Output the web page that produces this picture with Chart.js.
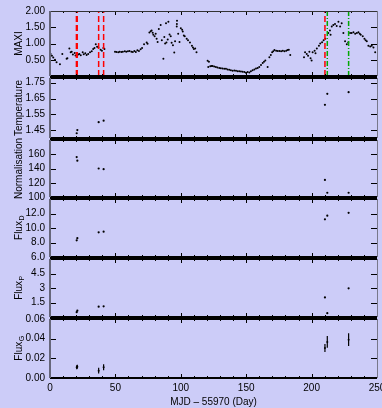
<!DOCTYPE html>
<html>
<head>
<meta charset="utf-8">
<script src="https://cdn.jsdelivr.net/npm/chart.js@4.4.0/dist/chart.umd.min.js"></script>
<style>
  html, body { margin: 0; padding: 0; background: #ccccf8; }
  #wrap { position: relative; width: 382px; height: 408px; overflow: hidden; }
  #wrap canvas { position: absolute; left: 0; }
</style>
</head>
<body>
<div id="wrap"></div>
<script>
/* ---------------- data ---------------- */

// MAXI light curve (day since MJD 55970, rate)
const MAXI_DAY = [
  0.5, 1.5, 2.5, 3.8, 5.0, 7.6, 9.4, 12.7, 13.3, 14.8, 15.8, 16.6, 17.5, 18.9, 19.5, 20.6, 21.5, 22.4, 23.5, 25.0,
  25.8, 27.0, 28.0, 29.2, 30.6, 31.9, 33.0, 34.0, 35.0, 36.0, 37.0, 38.7, 39.7, 40.8, 41.6,
  49.7, 50.8, 52.2, 53.3, 54.6, 55.7, 57.2, 58.3, 59.6, 60.8, 62.2, 63.3, 64.5, 65.6, 66.8, 68.0, 69.3, 70.4,
  71.9, 73.9, 74.6, 76.0, 77.0, 77.7, 78.5, 79.0, 80.0, 80.8, 81.5, 82.3, 83.2, 84.6, 85.5, 86.7, 87.4, 88.0,
  88.7, 89.0, 90.0, 90.5, 91.4, 92.3, 93.0, 94.0, 95.0, 95.6, 96.9, 97.0, 97.1, 98.0, 99.0, 100.0, 101.0, 101.5,
  102.3, 103.0, 104.5, 105.5, 107.0, 108.5, 109.3, 110.0, 111.0, 112.0,
  120.5, 121.5, 121.0, 122.5, 123.5, 124.3, 125.5, 126.8, 128.0, 129.4, 130.6, 131.9, 133.2, 134.5, 135.7, 137.0,
  138.3, 139.6, 140.9, 142.2, 143.5, 144.7, 146.0, 147.3, 148.6, 149.8, 151.1, 152.4, 153.6, 154.9, 156.2, 157.5,
  158.8, 160.0, 161.3, 162.6, 163.6, 164.6, 166.4, 167.7, 168.8, 169.8, 170.7, 171.6, 172.9, 174.1, 175.4, 176.7,
  178.0, 179.3, 180.6, 181.6, 182.6, 183.7,
  194.2, 195.0, 196.3, 197.3, 198.3, 199.2, 200.0, 200.8, 202.3, 203.0, 204.0, 205.6, 206.6, 208.0, 209.2, 210.5,
  212.8, 214.0, 214.5, 215.4, 216.6, 217.9, 219.2, 220.5, 221.8, 223.0, 224.3, 225.6, 226.9, 228.0, 229.4, 230.6,
  232.0, 233.3, 234.6, 235.8, 236.8, 237.6, 239.1, 240.4, 241.3, 242.2, 243.4, 244.8, 246.0, 247.3, 248.6
];
const MAXI_RATE = [
  0.68, 0.62, 0.57, 0.50, 0.42, 0.36, 0.68, 0.53, 0.55, 0.85, 0.73, 0.75, 0.66, 0.71, 0.63, 0.61, 0.66, 0.68, 0.64, 0.73,
  0.67, 0.70, 0.65, 0.68, 0.73, 0.76, 0.83, 0.86, 0.98, 0.90, 0.88, 0.81, 0.78, 0.86, 0.83,
  0.75, 0.74, 0.73, 0.75, 0.74, 0.75, 0.76, 0.75, 0.76, 0.77, 0.75, 0.74, 0.77, 0.74, 0.79, 0.77, 0.82, 0.86,
  0.98, 1.03, 0.99, 1.34, 1.38, 1.40, 1.33, 1.27, 1.22, 1.30, 1.15, 1.05, 1.45, 1.57, 1.10, 0.53, 1.20, 1.00,
  1.62, 1.03, 1.12, 1.67, 1.28, 1.22, 1.02, 0.95, 0.72, 1.07, 1.52, 1.60, 1.70, 1.30, 1.05, 1.47, 1.42, 1.37,
  1.25, 1.22, 1.15, 1.10, 1.03, 0.93, 0.88, 0.83, 0.85, 0.73,
  0.47, 0.44, 0.28, 0.30, 0.31, 0.31, 0.29, 0.28, 0.26, 0.25, 0.24, 0.23, 0.22, 0.22, 0.20, 0.19,
  0.18, 0.16, 0.17, 0.16, 0.15, 0.15, 0.14, 0.13, 0.12, 0.10, 0.12, 0.11, 0.15, 0.18, 0.20, 0.23,
  0.25, 0.28, 0.34, 0.40, 0.44, 0.48, 0.28, 0.58, 0.65, 0.73, 0.76, 0.80, 0.78, 0.77, 0.77, 0.76,
  0.78, 0.76, 0.78, 0.80, 0.81, 0.65,
  0.58, 0.73, 0.68, 0.62, 0.75, 0.55, 0.48, 0.73, 0.78, 0.70, 0.85, 0.93, 1.00, 1.04, 1.10, 1.15,
  1.32, 1.40, 1.27, 1.52, 1.57, 1.60, 1.54, 1.67, 1.52, 1.62, 1.32, 1.07, 0.98, 1.03, 1.32, 1.32,
  1.35, 1.30, 1.32, 1.35, 1.30, 1.27, 1.22, 1.15, 1.10, 1.07, 0.93, 0.91, 0.93, 0.88, 0.73
];

// pointed observations
const RED_LINES   = [20.2, 20.8, 37.2, 41.0, 210.2];
const GREEN_LINES = [212.0, 228.3];
const OBS_DAY       = [20.4, 20.9, 37.2, 41.0, 210.2, 212.0, 228.3];
const TEMPERATURE   = [1.43, 1.45, 1.50, 1.51, 1.61, 1.68, 1.69];
const NORMALISATION = [156, 151, 140, 139, 124, 106, 106];
const FLUX_D        = [8.3, 8.6, 9.4, 9.5, 11.2, 11.7, 12.1];
const FLUX_P        = [0.5, 0.65, 1.07, 1.1, 2.03, 0.4, 2.97];
const FLUX_G        = [0.011, 0.0115, 0.0075, 0.011, 0.0305, 0.0367, 0.039];
const FLUX_G_ERR    = [0.002, 0.002, 0.003, 0.003, 0.004, 0.006, 0.0065];

// axes
const X_TICKS = [0, 50, 100, 150, 200, 250];
const X_TITLE = 'MJD \u2013 55970 (Day)';
const Y_TITLES = ['MAXI', 'Temperature', 'Normalisation', 'Flux', 'Flux', 'Flux'];
const Y_SUBS   = ['', '', '', 'D', 'P', 'G'];
const Y_RANGES = [[0, 2], [1.40, 1.78], [100, 180], [6, 14], [0, 6], [0, 0.06]];
const Y_TICKS  = [
  [0.5, 1, 1.5, 2],
  [1.45, 1.55, 1.65, 1.75],
  [100, 120, 140, 160],
  [6, 8, 10, 12],
  [1.5, 3, 4.5],
  [0, 0.02, 0.04, 0.06]
];
const Y_LABELS = [
  ['0.50', '1.00', '1.50', '2.00'],
  ['1.45', '1.55', '1.65', '1.75'],
  ['100', '120', '140', '160'],
  ['6.0', '8.0', '10.0', '12.0'],
  ['1.5', '3', '4.5'],
  ['0.00', '0.02', '0.04', '0.06']
];

/* ---------------- layout ---------------- */
const EDGES = [10, 77, 139, 198, 258, 318, 378];   // panel boundaries (px)
const PLOT_LEFT = 50, PLOT_RIGHT = 377, CANVAS_W = 400;
const PAD = 10, XAXIS_H = 30;

Chart.defaults.font.family = '"Liberation Sans", Arial, Helvetica, sans-serif';
Chart.defaults.font.size = 10;
Chart.defaults.color = '#000';
Chart.defaults.animation = false;

// frame, inward ticks and rotated y title (IDL style)
const framePlugin = {
  id: 'frame',
  afterDraw(chart, args, opts) {
    const {ctx, chartArea: a, scales: {x, y}} = chart;
    ctx.save();
    ctx.strokeStyle = '#000';
    ctx.lineWidth = 1;
    ctx.beginPath();
    for (let v = 0; v <= 250; v += 10) {
      const px = Math.round(x.getPixelForValue(v)) + 0.5;
      const len = v % 50 === 0 ? 4 : 2;
      ctx.moveTo(px, a.top); ctx.lineTo(px, a.top + len);
      ctx.moveTo(px, a.bottom); ctx.lineTo(px, a.bottom - len);
    }
    opts.yTicks.forEach(v => {
      const py = Math.round(y.getPixelForValue(v)) + 0.5;
      ctx.moveTo(a.left, py); ctx.lineTo(a.left + 6, py);
      ctx.moveTo(a.right, py); ctx.lineTo(a.right - 6, py);
    });
    ctx.stroke();

    // borders
    ctx.lineWidth = 2;
    ctx.strokeStyle = '#000';
    ctx.beginPath();
    ctx.moveTo(a.left, a.bottom); ctx.lineTo(a.right, a.bottom);
    ctx.stroke();
    ctx.lineWidth = opts.first ? 1 : 2;
    ctx.strokeStyle = opts.first ? '#333' : '#000';
    ctx.beginPath();
    ctx.moveTo(a.left, opts.first ? a.top + 0.5 : a.top); ctx.lineTo(a.right, opts.first ? a.top + 0.5 : a.top);
    ctx.stroke();
    ctx.lineWidth = 2;
    ctx.strokeStyle = '#66667a';
    ctx.beginPath();
    ctx.moveTo(a.left, a.top); ctx.lineTo(a.left, a.bottom);
    ctx.stroke();
    ctx.lineWidth = 1;
    ctx.strokeStyle = '#77778a';
    ctx.beginPath();
    ctx.moveTo(a.right + 0.5, a.top); ctx.lineTo(a.right + 0.5, a.bottom);
    ctx.stroke();

    // y title, rotated, with optional subscript
    ctx.translate(19, (a.top + a.bottom) / 2);
    ctx.rotate(-Math.PI / 2);
    ctx.fillStyle = '#000';
    ctx.textBaseline = 'middle';
    ctx.textAlign = 'left';
    const mainFont = '10px "Liberation Sans", Arial, sans-serif';
    const subFont = '7px "Liberation Sans", Arial, sans-serif';
    ctx.font = mainFont;
    const w1 = ctx.measureText(opts.title).width;
    ctx.font = subFont;
    const w2 = opts.sub ? ctx.measureText(opts.sub).width : 0;
    const x0 = -(w1 + w2) / 2;
    ctx.font = mainFont;
    ctx.fillText(opts.title, x0, 0);
    if (opts.sub) {
      ctx.font = subFont;
      ctx.fillText(opts.sub, x0 + w1 + 0.5, 3);
    }
    ctx.restore();
  }
};

function vline(day, color, dash, ymax) {
  return {
    type: 'line',
    data: [{x: day, y: 0}, {x: day, y: ymax}],
    borderColor: color,
    borderWidth: 1.5,
    borderDash: dash,
    pointRadius: 0,
    order: 0
  };
}

function dots(xs, ys, r) {
  return {
    type: 'scatter',
    data: xs.map((d, i) => ({x: d, y: ys[i]})),
    backgroundColor: '#000',
    borderWidth: 0,
    pointRadius: r,
    order: 1
  };
}

function panelDatasets(i) {
  switch (i) {
    case 0:
      return [dots(MAXI_DAY, MAXI_RATE, 1)]
        .concat(RED_LINES.map(d => vline(d, '#ff0000', [6, 3], 2)))
        .concat(GREEN_LINES.map(d => vline(d, '#00a800', [5, 2, 1, 2], 2)));
    case 1: return [dots(OBS_DAY, TEMPERATURE, 1.1)];
    case 2: return [dots(OBS_DAY, NORMALISATION, 1.1)];
    case 3: return [dots(OBS_DAY, FLUX_D, 1.1)];
    case 4: return [dots(OBS_DAY, FLUX_P, 1.1)];
    case 5: {
      const bars = [];
      OBS_DAY.forEach((d, k) => {
        bars.push({x: d, y: FLUX_G[k] - FLUX_G_ERR[k]});
        bars.push({x: d, y: FLUX_G[k] + FLUX_G_ERR[k]});
        bars.push({x: d, y: null});
      });
      return [
        dots(OBS_DAY, FLUX_G, 1),
        {type: 'line', data: bars, borderColor: '#000', borderWidth: 1.2, pointRadius: 0, spanGaps: false, order: 0}
      ];
    }
  }
}

const wrap = document.getElementById('wrap');

for (let i = 0; i < 6; i++) {
  const isBottom = i === 5;
  const top = EDGES[i] - PAD;
  const h = (EDGES[i + 1] - EDGES[i]) + PAD + (isBottom ? XAXIS_H : PAD);
  const cv = document.createElement('canvas');
  cv.width = CANVAS_W;
  cv.height = h;
  cv.style.top = top + 'px';
  cv.style.width = CANVAS_W + 'px';
  cv.style.height = h + 'px';
  wrap.appendChild(cv);

  const yTicks = Y_TICKS[i];
  const yLabels = Y_LABELS[i];

  new Chart(cv.getContext('2d'), {
    type: 'scatter',
    data: {datasets: panelDatasets(i)},
    options: {
      responsive: false,
      animation: false,
      layout: {padding: {top: PAD, bottom: isBottom ? 0 : PAD, left: 0, right: CANVAS_W - PLOT_RIGHT}},
      plugins: {
        legend: {display: false},
        tooltip: {enabled: false},
        frame: {yTicks: yTicks, title: Y_TITLES[i], sub: Y_SUBS[i], first: i === 0}
      },
      scales: {
        x: {
          type: 'linear', min: 0, max: 250,
          display: isBottom,
          grid: {display: false, drawTicks: false},
          border: {display: false},
          ticks: {padding: 4, maxRotation: 0, autoSkip: false, font: {size: 10}},
          afterBuildTicks: s => { s.ticks = X_TICKS.map(v => ({value: v})); },
          afterFit: s => { s.height = isBottom ? XAXIS_H : 0; },
          title: {display: isBottom, text: X_TITLE, font: {size: 10}, padding: {top: 0, bottom: 0}}
        },
        y: {
          type: 'linear', min: Y_RANGES[i][0], max: Y_RANGES[i][1],
          grid: {display: false, drawTicks: false},
          border: {display: false},
          ticks: {padding: 5, autoSkip: false, font: {size: 10}, callback: (v, idx) => yLabels[idx]},
          afterBuildTicks: s => { s.ticks = yTicks.map(v => ({value: v})); },
          afterFit: s => { s.width = PLOT_LEFT; }
        }
      }
    },
    plugins: [framePlugin]
  });
}
</script>
</body>
</html>
